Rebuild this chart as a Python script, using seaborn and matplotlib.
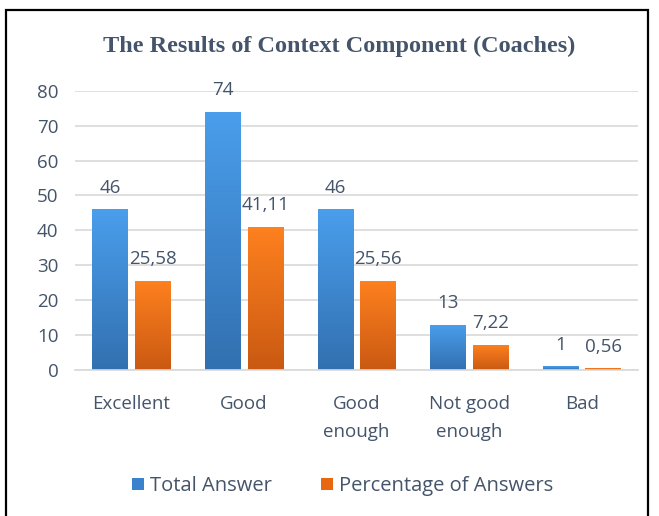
import numpy as np
import pandas as pd
import matplotlib
matplotlib.use("Agg")
import matplotlib.pyplot as plt
from matplotlib.colors import LinearSegmentedColormap
from matplotlib.patches import Rectangle, Patch
import seaborn as sns

categories = ["Excellent", "Good", "Good\nenough", "Not good\nenough", "Bad"]
total_answer = [46, 74, 46, 13, 1]
percentage = [25.58, 41.11, 25.56, 7.22, 0.56]
series_names = ["Total Answer", "Percentage of Answers"]
y_ticks = [0, 10, 20, 30, 40, 50, 60, 70, 80]

df = pd.DataFrame({
    "Category": categories * 2,
    "Value": total_answer + percentage,
    "Series": [series_names[0]] * len(categories) + [series_names[1]] * len(categories),
})

sns.set_style("white")
plt.rcParams["font.family"] = ["Open Sans", "DejaVu Sans"]
text_color = "#44546A"
fs = 13.5

# gradient colours (top, bottom)
grads = {
    series_names[0]: ("#4A9EEC", "#3270B0"),
    series_names[1]: ("#FF811F", "#C95912"),
}
legend_colors = ["#3A82CC", "#E86812"]

fig = plt.figure(figsize=(6.59, 5.16), dpi=100)
ax = fig.add_axes([0.114, 0.283, 0.854, 0.541])

sns.barplot(data=df, x="Category", y="Value", hue="Series", hue_order=series_names,
            order=categories, width=0.76, gap=0.18, ax=ax, legend=False,
            palette=[grads[s][0] for s in series_names], saturation=1)

ax.yaxis.grid(True, color="#D9D9D9", linewidth=1.2)
ax.set_axisbelow(True)
for s in ["top", "right", "left"]:
    ax.spines[s].set_visible(False)
ax.spines["bottom"].set_color("#D9D9D9")
ax.spines["bottom"].set_linewidth(1.2)
ax.tick_params(axis="both", length=0, labelsize=fs, labelcolor=text_color)
ax.tick_params(axis="x", pad=18)
ax.tick_params(axis="y", pad=12)
for lbl in ax.get_xticklabels():
    lbl.set_linespacing(1.75)
ax.set_xlabel("")
ax.set_ylabel("")

# gradient fill on each bar + value labels
values = [total_answer, percentage]
for cont, name, vals in zip(ax.containers, series_names, values):
    cmap = LinearSegmentedColormap.from_list(name, [grads[name][1], grads[name][0]])
    for bar, v in zip(cont, vals):
        x, y = bar.get_x(), bar.get_y()
        w, h = bar.get_width(), bar.get_height()
        grad = np.linspace(0, 1, 256).reshape(-1, 1)
        im = ax.imshow(grad, cmap=cmap, aspect="auto", origin="lower",
                       extent=[x, x + w, y, y + h], zorder=bar.get_zorder())
        im.set_clip_path(bar)
        bar.set_facecolor("none")
        bar.set_edgecolor("none")
        if isinstance(v, float):
            txt = f"{v:.2f}".replace(".", ",")
        else:
            txt = str(v)
        ax.annotate(txt, (x + w / 2, y + h), xytext=(0, 9), textcoords="offset points",
                    ha="center", va="bottom", fontsize=fs, color=text_color,
                    annotation_clip=False)

ax.set_xlim(-0.5, len(categories) - 0.5)
ax.set_ylim(0, 80)
ax.set_yticks(y_ticks)

fig.text(0.515, 0.91, "The Results of Context Component (Coaches)",
         ha="center", va="center", fontsize=17.5, fontweight="bold",
         color=text_color, family="Liberation Serif")

handles = [Patch(facecolor=c, edgecolor="none") for c in legend_colors]
fig.legend(handles, series_names, loc="center", bbox_to_anchor=(0.52, 0.058),
           ncol=2, frameon=False, fontsize=14.5, labelcolor=text_color,
           handlelength=0.6, handleheight=0.6, handletextpad=0.3, columnspacing=2.4)

fig.add_artist(Rectangle((6 / 659, -0.02), (648 - 6) / 659, 1.02 - 10 / 516,
                         transform=fig.transFigure, fill=False,
                         edgecolor="black", linewidth=1.6))

fig.savefig("out.png", dpi=100)
